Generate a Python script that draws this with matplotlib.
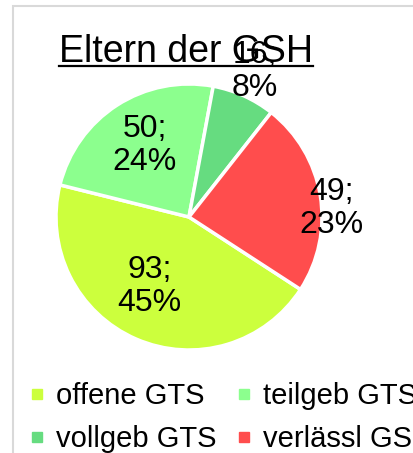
import numpy as np
import matplotlib
matplotlib.use('Agg')
import matplotlib.pyplot as plt
from matplotlib.lines import Line2D
from matplotlib.patches import Rectangle

plt.rcParams['font.family'] = ['Liberation Sans', 'DejaVu Sans']

# data
categories = ['offene GTS', 'teilgeb GTS', 'vollgeb GTS', 'verlässl GS']
counts = [93, 50, 16, 49]
percents = [45, 24, 8, 23]
colors = ['#CCFF3D', '#8CFF8E', '#66DC80', '#FF4D4D']

title = 'Eltern der GSH'

W, H = 414, 453
fig = plt.figure(figsize=(W / 100, H / 100), dpi=100)

# light gray chart border (only top and left visible)
fig.add_artist(Rectangle((13 / W, -0.1), 1.2, (H - 6) / H + 0.1, transform=fig.transFigure,
                         fill=False, edgecolor='#D9D9D9', linewidth=1.5))

# pie axes: centre (189, 217) px, radius 133 px
cx, cy, r = 189, 217, 133
ax = fig.add_axes([(cx - r) / W, (H - cy - r) / H, 2 * r / W, 2 * r / H])
wedges, _ = ax.pie(counts, colors=colors, startangle=-33, counterclock=False,
                   radius=1, wedgeprops=dict(edgecolor='white', linewidth=2.5))
ax.set_xlim(-1, 1)
ax.set_ylim(-1, 1)
ax.set_aspect('equal')
ax.axis('off')

# label placement: distance from centre and angle shift from wedge middle
label_dist = [0.60, 0.63, 1.20, 1.07]
label_shift = [-6, -1, 0, -6]
for w, n, p, d, s in zip(wedges, counts, percents, label_dist, label_shift):
    ang = np.deg2rad((w.theta1 + w.theta2) / 2 + s)
    ax.text(d * np.cos(ang), d * np.sin(ang), f'{n};\n{p}%', ha='center', va='center',
            fontsize=23, linespacing=1.15, clip_on=False, zorder=5)

# underlined title
fig.text(59 / W, 1 - 62 / H, title, fontsize=27, ha='left', va='baseline')
fig.add_artist(Line2D([59 / W, 313 / W], [1 - 66 / H, 1 - 66 / H],
                      transform=fig.transFigure, color='black', linewidth=1.6))

# legend filled row by row like the original
order = [0, 2, 1, 3]
handles = [Line2D([], [], marker='s', linestyle='none', markersize=7,
                  markerfacecolor=colors[i], markeredgecolor=colors[i]) for i in order]
fig.legend(handles, [categories[i] for i in order], ncol=2, loc='upper left',
           bbox_to_anchor=(28 / W, 1 - 382 / H), frameon=False, fontsize=21,
           handlelength=0.6, handletextpad=0.35, columnspacing=0.65,
           labelspacing=0.52, borderpad=0, borderaxespad=0)

fig.savefig('out.png', dpi=100)
